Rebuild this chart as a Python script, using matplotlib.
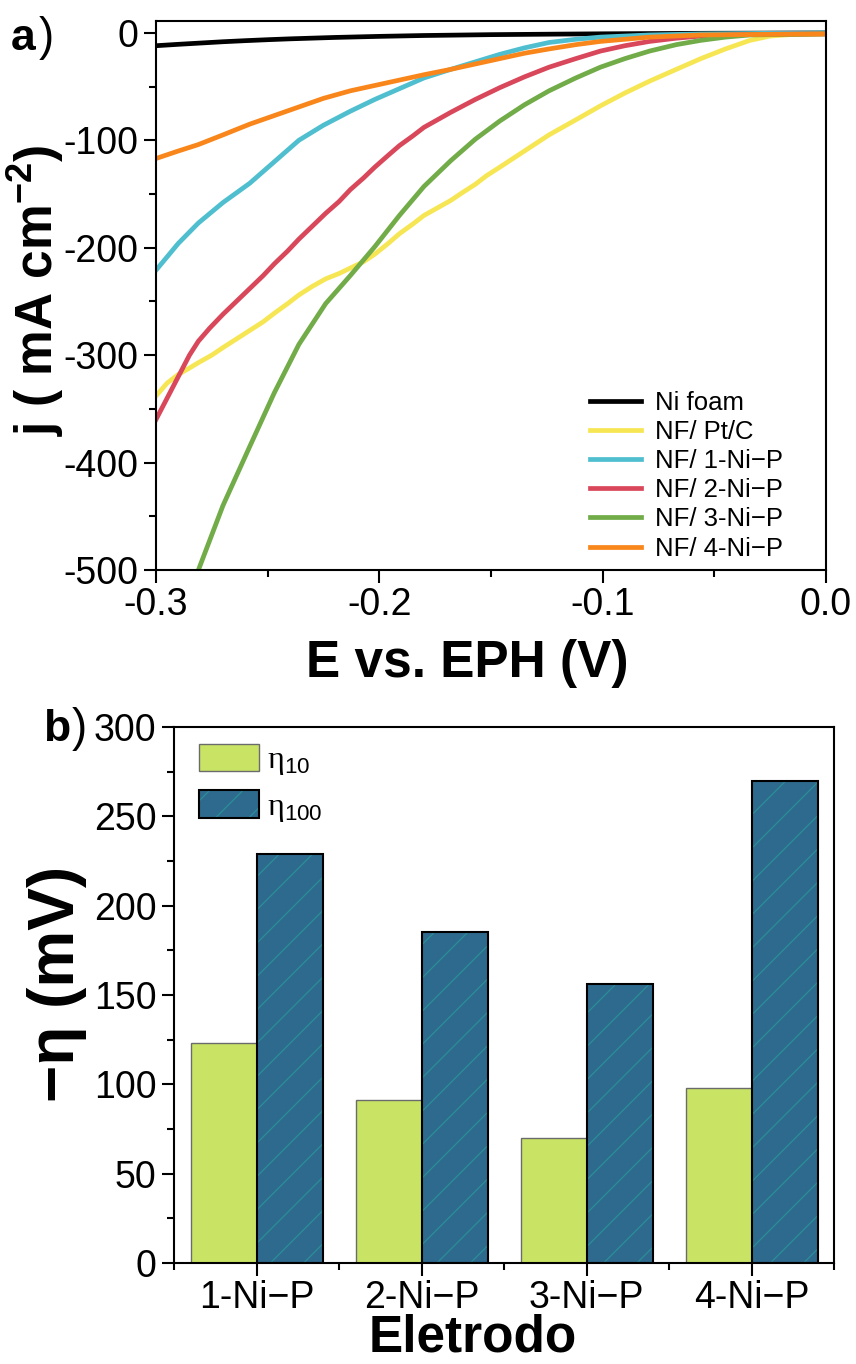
import matplotlib
matplotlib.use('Agg')
import matplotlib.pyplot as plt
from matplotlib.ticker import MultipleLocator
from matplotlib.legend_handler import HandlerTuple

plt.rcParams['font.family'] = ['Liberation Sans', 'DejaVu Sans']
plt.rcParams['axes.unicode_minus'] = False
plt.rcParams['mathtext.fontset'] = 'custom'
plt.rcParams['mathtext.rm'] = 'Liberation Serif'
plt.rcParams['mathtext.sf'] = 'Liberation Sans'
plt.rcParams['mathtext.bf'] = 'Liberation Sans:bold'
plt.rcParams['hatch.linewidth'] = 0.9

''' (a) polarisation curves, E in V, j in mA cm-2 '''
E_foam = [-0.30, -0.29, -0.28, -0.27, -0.26, -0.25, -0.24, -0.22, -0.20, -0.18, -0.15,
          -0.12, -0.10, -0.05, 0.0]
j_foam = [-12, -10.7, -9.5, -8.3, -7.3, -6.4, -5.6, -4.3, -3.3, -2.5, -1.7,
          -1.2, -0.9, -0.4, -0.1]

E_ptc = [-0.300, -0.295, -0.290, -0.285, -0.281, -0.275, -0.270, -0.264, -0.258, -0.252,
         -0.247, -0.241, -0.236, -0.230, -0.224, -0.218, -0.213, -0.207, -0.202, -0.196,
         -0.191, -0.185, -0.180, -0.174, -0.168, -0.163, -0.157, -0.152, -0.146, -0.135,
         -0.124, -0.112, -0.101, -0.090, -0.079, -0.067, -0.056, -0.045, -0.034, -0.025,
         -0.015, 0.0]
j_ptc = [-338, -326, -318, -312, -307, -300, -293, -285, -277, -269,
         -261, -252, -244, -236, -229, -224, -219, -213, -206, -196,
         -187, -178, -170, -163, -156, -149, -141, -133, -125, -110,
         -95, -81, -68, -56, -45, -34, -24, -15, -7, -3,
         -1.5, -1]

E_1nip = [-0.300, -0.290, -0.281, -0.270, -0.258, -0.247, -0.236, -0.225, -0.213, -0.202,
          -0.191, -0.180, -0.168, -0.157, -0.146, -0.135, -0.124, -0.112, -0.101, -0.079,
          -0.056, 0.0]
j_1nip = [-221, -196, -177, -158, -140, -120, -100, -86, -73, -62,
          -52, -42, -34, -27, -20, -14, -9, -6, -4, -2,
          -1, 0]

E_2nip = [-0.300, -0.295, -0.290, -0.285, -0.281, -0.276, -0.270, -0.264, -0.258, -0.252,
          -0.247, -0.241, -0.236, -0.230, -0.224, -0.218, -0.213, -0.207, -0.202, -0.196,
          -0.191, -0.185, -0.180, -0.174, -0.168, -0.157, -0.146, -0.135, -0.124, -0.112,
          -0.101, -0.090, -0.079, -0.067, -0.056, -0.034, 0.0]
j_2nip = [-360, -340, -320, -300, -287, -275, -262, -250, -238, -226,
          -215, -203, -192, -180, -168, -157, -146, -135, -125, -114,
          -105, -96, -88, -81, -74, -62, -51, -41, -32, -24,
          -17, -12, -8, -5, -3, -1.5, -1]

E_3nip = [-0.281, -0.270, -0.258, -0.247, -0.236, -0.224, -0.213, -0.202, -0.191, -0.180,
          -0.168, -0.157, -0.146, -0.135, -0.124, -0.112, -0.101, -0.090, -0.079, -0.067,
          -0.056, -0.045, -0.034, 0.0]
j_3nip = [-500, -440, -385, -335, -290, -252, -226, -199, -170, -143,
          -119, -99, -82, -67, -54, -42, -32, -24, -17, -11,
          -7, -4, -2, -1]

E_4nip = [-0.300, -0.290, -0.281, -0.270, -0.258, -0.247, -0.236, -0.225, -0.213, -0.202,
          -0.191, -0.180, -0.168, -0.157, -0.146, -0.135, -0.124, -0.112, -0.101, -0.090,
          -0.079, -0.056, 0.0]
j_4nip = [-117, -110, -104, -95, -85, -77, -69, -61, -54, -49,
          -44, -39, -34, -29, -24, -19, -15, -11, -8, -6,
          -4, -2, -1]

curves = [
    {'label': 'Ni foam',        'E': E_foam, 'j': j_foam, 'color': 'black'},
    {'label': 'NF/ Pt/C',       'E': E_ptc,  'j': j_ptc,  'color': '#f7e654'},
    {'label': 'NF/ 1-Ni\u2212P', 'E': E_1nip, 'j': j_1nip, 'color': '#4fbfcf'},
    {'label': 'NF/ 2-Ni\u2212P', 'E': E_2nip, 'j': j_2nip, 'color': '#d9475b'},
    {'label': 'NF/ 3-Ni\u2212P', 'E': E_3nip, 'j': j_3nip, 'color': '#71ac48'},
    {'label': 'NF/ 4-Ni\u2212P', 'E': E_4nip, 'j': j_4nip, 'color': '#f9861b'},
]

''' (b) overpotentials in mV '''
electrodes = ['1-Ni\u2212P', '2-Ni\u2212P', '3-Ni\u2212P', '4-Ni\u2212P']
eta10 = [123, 91, 70, 98]
eta100 = [229, 185, 156, 270]

fig = plt.figure(figsize=(8.56, 13.64), dpi=100)
ax1 = fig.add_axes([0.1822, 0.5821, 0.7827, 0.4025])
ax2 = fig.add_axes([0.2033, 0.0740, 0.7710, 0.3930])

for ax in (ax1, ax2):
    for s in ax.spines.values():
        s.set_linewidth(1.5)
    ax.tick_params(which='major', direction='out', length=9, width=1.5, labelsize=27)
    ax.tick_params(which='minor', direction='out', length=5, width=1.5)

''' top panel '''
for c in curves:
    ax1.plot(c['E'], c['j'], '-', lw=3.4, color=c['color'], label=c['label'],
             solid_joinstyle='round')
ax1.set_xlim(-0.3, 0.0)
ax1.set_ylim(-500, 11)
ax1.xaxis.set_major_locator(MultipleLocator(0.1))
ax1.xaxis.set_minor_locator(MultipleLocator(0.05))
ax1.yaxis.set_major_locator(MultipleLocator(100))
ax1.yaxis.set_minor_locator(MultipleLocator(50))
ax1.xaxis.set_major_formatter(plt.FuncFormatter(lambda v, p: '%.1f' % v))
ax1.set_xlabel('E vs. EPH (V)', fontsize=37, fontweight='bold')
ax1.set_ylabel(r'j ( mA cm$^{\mathbf{-2}}$)', fontsize=37, fontweight='bold')
ax1.xaxis.label.set_va('center')
ax1.yaxis.label.set_va('center')
ax1.xaxis.set_label_coords(0.465, -0.17)
ax1.yaxis.set_label_coords(-0.18, 0.51)
ax1.legend(loc='lower right', bbox_to_anchor=(0.97, -0.025), frameon=False, fontsize=18.5,
           handlelength=1.95, handletextpad=0.55, labelspacing=0.2)

''' bottom panel '''
x = range(1, len(electrodes) + 1)
x1 = [i - 0.2 for i in x]
x2 = [i + 0.2 for i in x]
b1 = ax2.bar(x1, eta10, 0.4, color='#c9e465', edgecolor='#6b6b6b', lw=1.0)
b2 = ax2.bar(x2, eta100, 0.4, color='#2e6a8e', edgecolor='#2a8e97', lw=0, hatch='/')
b3 = ax2.bar(x2, eta100, 0.4, fill=False, edgecolor='black', lw=1.5)
ax2.set_xlim(0.5, 4.5)
ax2.set_ylim(0, 300)
ax2.set_xticks(list(x))
ax2.set_xticklabels(electrodes)
ax2.set_xticks([0.5, 1.5, 2.5, 3.5, 4.5], minor=True)
ax2.yaxis.set_major_locator(MultipleLocator(50))
ax2.yaxis.set_minor_locator(MultipleLocator(25))
ax2.set_xlabel('Eletrodo', fontsize=37, fontweight='bold')
ax2.set_ylabel('\u2212\u03b7 (mV)', fontsize=46, fontweight='bold')
ax2.xaxis.label.set_va('center')
ax2.yaxis.label.set_va('center')
ax2.xaxis.set_label_coords(0.453, -0.14)
ax2.yaxis.set_label_coords(-0.178, 0.52)
ax2.legend([b1, (b2, b3)], [r'$\mathrm{\eta}_{\mathsf{10}}$', r'$\mathrm{\eta}_{\mathsf{100}}$'],
           handler_map={tuple: HandlerTuple(ndivide=1)},
           loc='upper left', bbox_to_anchor=(0.012, 1.0), frameon=False, fontsize=23,
           handlelength=1.9, handleheight=0.95, handletextpad=0.25, labelspacing=0.4,
           borderaxespad=0.12)

''' panel letters '''
fig.text(0.013, 0.963, 'a', fontsize=32, fontweight='bold')
fig.text(0.045, 0.963, ')', fontsize=33)
fig.text(0.050, 0.457, 'b', fontsize=32, fontweight='bold')
fig.text(0.084, 0.457, ')', fontsize=33)

fig.savefig('out.png', dpi=100)
